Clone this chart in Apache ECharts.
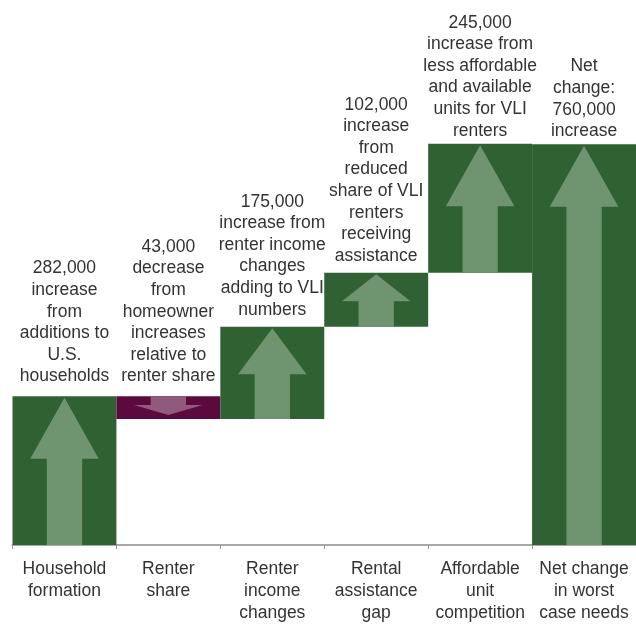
<!DOCTYPE html>
<html>
<head>
<meta charset="utf-8">
<script src="https://cdn.jsdelivr.net/npm/echarts@6/dist/echarts.min.js"></script>
<style>
html,body{margin:0;padding:0;background:#fff;}
#chart{width:636px;height:624px;}
</style>
</head>
<body>
<div id="chart"></div>
<script>
// Categories (x axis)
const categories = [
  'Household\nformation',
  'Renter\nshare',
  'Renter\nincome\nchanges',
  'Rental\nassistance\ngap',
  'Affordable\nunit\ncompetition',
  'Net change\nin worst\ncase needs'
];
// Change in worst case needs (thousands of households); last entry is the net total
const changes = [282, -43, 175, 102, 245, 760];
const isTotal = [false, false, false, false, false, true];
// Annotation text above each bar
const annotations = [
  '282,000\nincrease\nfrom\nadditions to\nU.S.\nhouseholds',
  '43,000\ndecrease\nfrom\nhomeowner\nincreases\nrelative to\nrenter share',
  '175,000\nincrease from\nrenter income\nchanges\nadding to VLI\nnumbers',
  '102,000\nincrease\nfrom\nreduced\nshare of VLI\nrenters\nreceiving\nassistance',
  '245,000\nincrease from\nless affordable\nand available\nunits for VLI\nrenters',
  'Net\nchange:\n760,000\nincrease'
];

// style-only: gap between annotation and bar top (px)
const labelGap = [9, 9, 6, 6, 2, 2];

const GREEN = '#2f6132', GREEN_ARROW = '#6e9470';
const PURPLE = '#5c0a3d', PURPLE_ARROW = '#8e5a7d';
const FONT = '17.5px "Liberation Sans", Arial, Helvetica, sans-serif';

// build waterfall ranges
let run = 0;
const wfData = changes.map((v, i) => {
  let s, e;
  if (isTotal[i]) { s = 0; e = v; }
  else { s = run; e = run + v; run = e; }
  return [i, s, e];
});

function renderItem(params, api) {
  const i = api.value(0), s = api.value(1), e = api.value(2);
  const ps = api.coord([i, s]);
  const pe = api.coord([i, e]);
  const w = api.size([1, 0])[0];
  const cx = ps[0];
  const yt = Math.min(ps[1], pe[1]);
  const yb = Math.max(ps[1], pe[1]);
  const h = yb - yt;
  const up = e >= s;
  const headW = w * 0.66, shaftW = w * 0.34;
  let pts;
  if (up) {
    const tip = yt + 1.5;
    const headH = Math.min(61, 0.5 * h);
    const hb = tip + headH;
    pts = [[cx, tip], [cx + headW / 2, hb], [cx + shaftW / 2, hb], [cx + shaftW / 2, yb],
           [cx - shaftW / 2, yb], [cx - shaftW / 2, hb], [cx - headW / 2, hb]];
  } else {
    const tip = yb - 4;
    const headH = Math.min(61, 0.44 * h);
    const hb = tip - headH;
    pts = [[cx, tip], [cx + headW / 2, hb], [cx + shaftW / 2, hb], [cx + shaftW / 2, yt],
           [cx - shaftW / 2, yt], [cx - shaftW / 2, hb], [cx - headW / 2, hb]];
  }
  return {
    type: 'group',
    children: [
      { type: 'rect', shape: { x: cx - w / 2, y: yt, width: w, height: h },
        style: { fill: up ? GREEN : PURPLE } },
      { type: 'polygon', shape: { points: pts },
        style: { fill: up ? GREEN_ARROW : PURPLE_ARROW } },
      { type: 'text', style: { text: annotations[i], x: cx, y: yt - labelGap[i],
          align: 'center', verticalAlign: 'bottom', font: FONT, lineHeight: 21.6, fill: '#333' } }
    ]
  };
}

const chart = echarts.init(document.getElementById('chart'), null, { renderer: 'canvas' });
chart.setOption({
  animation: false,
  grid: { left: 12.5, width: 628, top: 17.6, bottom: 75.7, containLabel: false },
  xAxis: {
    type: 'category',
    data: categories,
    boundaryGap: true,
    axisLine: { show: true, lineStyle: { color: '#a8a8a8', width: 2 } },
    axisTick: { show: true, length: 4, lineStyle: { color: '#999', width: 1 } },
    axisLabel: { color: '#333', fontSize: 17.5, fontFamily: '"Liberation Sans", Arial, sans-serif',
                 lineHeight: 22, margin: 13, interval: 0 },
    z: 0
  },
  yAxis: { type: 'value', min: 0, max: 1000, show: false },
  series: [{
    type: 'custom',
    renderItem: renderItem,
    encode: { x: 0, y: [1, 2] },
    data: wfData,
    z: 3,
    clip: false
  }]
});
</script>
</body>
</html>
